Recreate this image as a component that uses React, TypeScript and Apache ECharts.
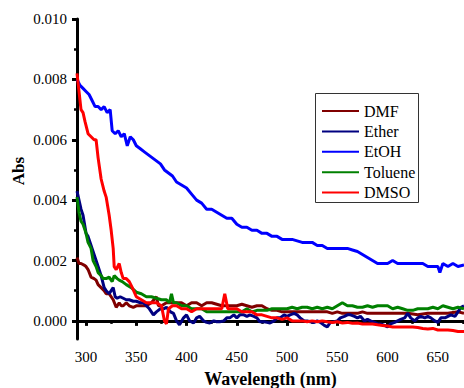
import React, { useEffect, useRef } from "react";
import * as echarts from "echarts";

const xMajorTicks = [300, 350, 400, 450, 500, 550, 600, 650];
const xMinorTicks = [325, 375, 425, 475, 525, 575, 625, 675];
const yMajorTicks = [0, 0.002, 0.004, 0.006, 0.008, 0.01];
const yMinorTicks = [0.001, 0.003, 0.005, 0.007, 0.009];

const seriesNames = ["DMF", "Ether", "EtOH", "Toluene", "DMSO"];
const seriesColors = ["#800000", "#000080", "#0000FF", "#008000", "#FF0000"];

const dmfX = [291,293,295,298,300,302,305,308,310,312,315,318,320,323,325,327,330,333,335,337,340,343,347,350,355,360,365,370,372,375,380,385,390,395,400,405,410,415,420,425,430,435,440,445,450,455,460,465,470,475,480,485,490,495,500,505,510,515,520,525,530,535,540,545,550,555,560,565,570,575,580,585,590,600,610,620,630,640,650,660,670,676];
const dmfY = [0.0021,0.0019,0.0019,0.00185,0.0018,0.0017,0.00145,0.0014,0.00135,0.0012,0.0011,0.001,0.0009,0.0009,0.0008,0.0007,0.00045,0.0006,0.0005,0.0005,0.0006,0.0005,0.00045,0.0005,0.0005,0.0005,0.0006,0.0008,0.0005,0.0005,0.0006,0.0006,0.0006,0.0006,0.0005,0.0006,0.0006,0.0005,0.0006,0.0006,0.00055,0.0005,0.0005,0.0005,0.0005,0.00055,0.0005,0.00045,0.0005,0.0005,0.0004,0.00035,0.00035,0.0003,0.0003,0.0003,0.0003,0.0003,0.0003,0.0003,0.0003,0.0003,0.0003,0.00025,0.0003,0.00025,0.00025,0.00025,0.00025,0.0003,0.00025,0.00025,0.00025,0.00025,0.00025,0.00025,0.0002,0.00025,0.00025,0.00025,0.0003,0.00025];

const etherX = [291,293,295,297,300,302,305,307,310,312,315,318,320,323,325,327,329,331,334,337,340,343,347,350,354,357,360,363,367,370,374,377,380,384,387,390,393,397,400,403,407,410,413,417,420,423,427,430,433,437,440,443,447,450,453,457,460,463,467,470,473,477,480,483,487,490,493,497,500,503,507,510,513,517,520,523,527,530,533,537,540,543,547,550,553,557,560,563,567,570,573,577,580,583,587,590,593,597,600,603,607,610,613,617,620,623,627,630,633,637,640,643,647,650,653,657,660,663,667,670,673,676];
const etherY = [0.0043,0.004,0.0037,0.0035,0.0029,0.0028,0.0025,0.0023,0.002,0.0018,0.0015,0.0011,0.001,0.0009,0.001,0.0011,0.0008,0.00075,0.0008,0.00075,0.0007,0.0007,0.00065,0.00065,0.0006,0.0006,0.0005,0.0004,0.0002,0.0003,0.0004,0.0004,0.00045,0.0003,0.00025,0.0,-0.00013,0.0001,0.0002,0.0,-0.00007,0.0001,0.00015,0.0,-0.00005,-0.00007,0.0,-0.00003,-0.00003,0.0,0.0001,0.0001,0.0002,0.0001,0.0002,0.0002,0.00015,0.0002,0.00015,0.0001,-0.00003,-0.00003,-0.00005,-0.00007,0.0,0.0001,0.0001,0.0002,0.00015,0.0002,0.00025,0.0002,0.0001,0.0,0.0,-0.00003,-0.00005,0.0,-0.00005,-0.00015,-0.0002,-0.00005,-0.00003,0.0,0.0001,0.00015,0.0002,0.0002,0.00015,0.0001,0.00015,0.0,0.00005,0.0,-0.00005,-0.0001,-0.0001,-0.00015,-0.0002,-0.0001,-0.00005,0.0,0.00005,0.0001,0.00025,0.0001,0.0,0.0001,0.00015,0.0001,0.00015,0.0001,0.0,-0.00005,0.0001,0.0001,0.00015,0.0002,0.00015,0.0003,0.00045,0.0005];

const etohX = [291,294,297,300,303,306,309,312,315,318,321,324,326,329,332,335,338,341,344,347,350,354,358,362,366,370,374,378,382,386,390,395,400,405,410,415,420,425,430,435,440,445,450,455,460,465,470,475,480,485,490,495,500,505,510,515,520,525,530,535,540,545,550,555,560,565,570,575,580,585,590,595,600,605,610,615,620,625,630,635,640,645,650,652,655,660,665,670,676];
const etohY = [0.008,0.0078,0.0077,0.0076,0.0075,0.0073,0.0071,0.0071,0.007,0.0071,0.0069,0.007,0.0063,0.0062,0.0063,0.0061,0.0062,0.0058,0.0061,0.006,0.0058,0.0057,0.0056,0.0055,0.0054,0.0053,0.0052,0.005,0.0049,0.0048,0.0046,0.0045,0.0044,0.0042,0.004,0.0039,0.0037,0.0037,0.0036,0.0035,0.0034,0.0034,0.0032,0.0031,0.0031,0.003,0.003,0.0029,0.0029,0.0028,0.0028,0.0027,0.0027,0.0027,0.00265,0.0026,0.0026,0.0026,0.0025,0.0025,0.0024,0.0024,0.0024,0.0024,0.0024,0.00235,0.0023,0.0022,0.0021,0.002,0.0019,0.0019,0.0019,0.002,0.0019,0.0019,0.0019,0.0019,0.0019,0.0019,0.0018,0.0018,0.0018,0.0016,0.0019,0.0018,0.0019,0.0018,0.00185];

const tolueneX = [291,293,295,297,300,302,305,307,310,312,315,317,320,323,326,328,331,333,336,340,345,350,355,360,365,370,375,380,383,385,387,390,395,400,405,410,415,420,425,430,435,440,445,450,455,460,465,470,475,480,485,490,495,500,505,510,515,520,525,530,535,540,545,550,555,560,565,570,575,580,585,590,595,600,605,610,615,620,625,630,635,640,645,650,655,660,665,670,676];
const tolueneY = [0.0041,0.0036,0.0033,0.0032,0.0029,0.0026,0.0024,0.002,0.0018,0.0016,0.0015,0.0014,0.0014,0.00145,0.0013,0.0015,0.0014,0.00135,0.0013,0.0012,0.0011,0.00095,0.0009,0.0008,0.0008,0.00075,0.0007,0.0007,0.0006,0.0009,0.0006,0.0006,0.0005,0.0005,0.0004,0.0004,0.0004,0.0003,0.0003,0.0003,0.0003,0.0003,0.0003,0.0003,0.0003,0.0004,0.0003,0.00035,0.00035,0.00035,0.0004,0.0004,0.0004,0.0004,0.00045,0.0004,0.00045,0.00045,0.0004,0.00045,0.0004,0.00045,0.0004,0.0005,0.0006,0.0005,0.0005,0.00045,0.00045,0.0005,0.00045,0.0005,0.0005,0.0005,0.0004,0.00045,0.0004,0.00035,0.00035,0.0004,0.0004,0.0004,0.00045,0.0004,0.0005,0.00045,0.0004,0.00045,0.0004];

const dmsoX = [291,293,295,297,299,302,305,308,310,312,315,318,320,323,325,327,328,330,333,335,337,340,343,346,350,355,360,365,370,375,378,380,382,386,390,395,400,405,410,415,420,425,430,435,438,441,445,450,455,460,465,470,475,480,485,490,495,500,505,510,515,520,525,530,535,540,545,550,555,560,565,570,575,580,585,590,595,600,605,610,615,620,625,630,635,640,645,650,655,660,665,670,676];
const dmsoY = [0.0082,0.0076,0.007,0.0069,0.0066,0.0062,0.0061,0.006,0.006,0.0054,0.0047,0.0043,0.0041,0.0035,0.003,0.0024,0.0018,0.0017,0.0019,0.0016,0.0014,0.0014,0.0013,0.0011,0.0008,0.0007,0.0006,0.0006,0.0006,0.0005,0.0,-0.0001,0.0004,0.0005,0.0005,0.0004,0.0004,0.0003,0.0004,0.0004,0.0004,0.0004,0.0004,0.0004,0.0009,0.0004,0.0004,0.0004,0.0003,0.0003,0.0003,0.0002,0.0002,0.00015,0.0001,0.0001,0.00005,0.0001,0.0,0.0,0.0,-0.00003,0.0,-0.00003,0.0,-0.00003,-0.00005,-0.00003,-0.00007,-0.00005,-0.00008,-0.00007,-0.0001,-0.0001,-0.0001,-0.00013,-0.00015,-0.00017,-0.0002,-0.0002,-0.0002,-0.0002,-0.0002,-0.00022,-0.00025,-0.00027,-0.00025,-0.0003,-0.0003,-0.0003,-0.00032,-0.00035,-0.00035];

const seriesX = [dmfX, etherX, etohX, tolueneX, dmsoX];
const seriesY = [dmfY, etherY, etohY, tolueneY, dmsoY];

const FONT = "Liberation Serif";

export default function App() {
  const ref = useRef<HTMLDivElement>(null);
  useEffect(() => {
    if (!ref.current) return;
    const chart = echarts.init(ref.current, null, { renderer: "svg" });
    const axisLineStyle = { color: "#000", width: 3 };
    chart.setOption({
      animation: false,
      textStyle: { fontFamily: FONT },
      grid: { left: 77, right: 0, top: 19, bottom: 49, containLabel: false, outerBoundsMode: "none" },
      xAxis: [
        {
          type: "value",
          min: 291,
          max: 676,
          name: "Wavelength (nm)",
          nameLocation: "middle",
          nameGap: 31,
          nameTextStyle: { fontFamily: FONT, fontWeight: "bold", fontSize: 18, color: "#000" },
          axisLine: { show: true, lineStyle: axisLineStyle },
          axisTick: { show: true, inside: false, length: 5, lineStyle: { width: 3, color: "#000" }, customValues: xMajorTicks },
          axisLabel: { show: true, customValues: xMajorTicks, margin: 10, fontFamily: FONT, fontSize: 15, color: "#000" },
          splitLine: { show: false },
        },
        {
          type: "value",
          position: "bottom",
          min: 291,
          max: 676,
          axisLine: { show: false },
          axisTick: { show: true, inside: false, length: 3, lineStyle: { width: 2.5, color: "#000" }, customValues: xMinorTicks },
          axisLabel: { show: false },
          splitLine: { show: false },
        },
      ],
      yAxis: [
        {
          type: "value",
          min: -0.0006,
          max: 0.01,
          axisLine: { show: true, lineStyle: axisLineStyle },
          axisTick: { show: true, inside: false, length: 5, lineStyle: { width: 3, color: "#000" }, customValues: yMajorTicks },
          axisLabel: {
            show: true,
            customValues: yMajorTicks,
            margin: 10,
            fontFamily: FONT,
            fontSize: 15,
            color: "#000",
            formatter: (v: number) => v.toFixed(3),
          },
          splitLine: { show: false },
        },
        {
          type: "value",
          position: "left",
          min: -0.0006,
          max: 0.01,
          axisLine: { show: false },
          axisTick: { show: true, inside: false, length: 3, lineStyle: { width: 2.5, color: "#000" }, customValues: yMinorTicks },
          axisLabel: { show: false },
          splitLine: { show: false },
        },
      ],
      legend: {
        orient: "vertical",
        left: 321,
        top: 103,
        padding: 0,
        itemWidth: 37,
        itemHeight: 14,
        itemGap: 4.4,
        itemStyle: { opacity: 0 },
        textStyle: { fontFamily: FONT, fontSize: 16, color: "#000" },
        data: seriesNames,
      },
      graphic: [
        {
          type: "rect",
          shape: { x: 315.5, y: 93.5, width: 103, height: 109 },
          style: { fill: "#fff", stroke: "#333", lineWidth: 1 },
          z: 0,
          silent: true,
        },
        {
          type: "text",
          x: 18,
          y: 171,
          rotation: Math.PI / 2,
          style: {
            text: "Abs",
            fontFamily: FONT,
            fontWeight: "bold",
            fontSize: 17,
            fill: "#000",
            align: "center",
            verticalAlign: "middle",
          },
        },
      ],
      series: seriesNames.map((name, i) => ({
        name,
        type: "line",
        xAxisIndex: 0,
        yAxisIndex: 0,
        symbol: "none",
        showSymbol: false,
        color: seriesColors[i],
        lineStyle: { color: seriesColors[i], width: 3 },
        data: seriesX[i].map((x, j) => [x, seriesY[i][j]]),
        z: 2,
      })),
    });
    return () => chart.dispose();
  }, []);
  return <div ref={ref} style={{ width: 464, height: 388, position: "absolute", left: 0, top: 0 }} />;
}
